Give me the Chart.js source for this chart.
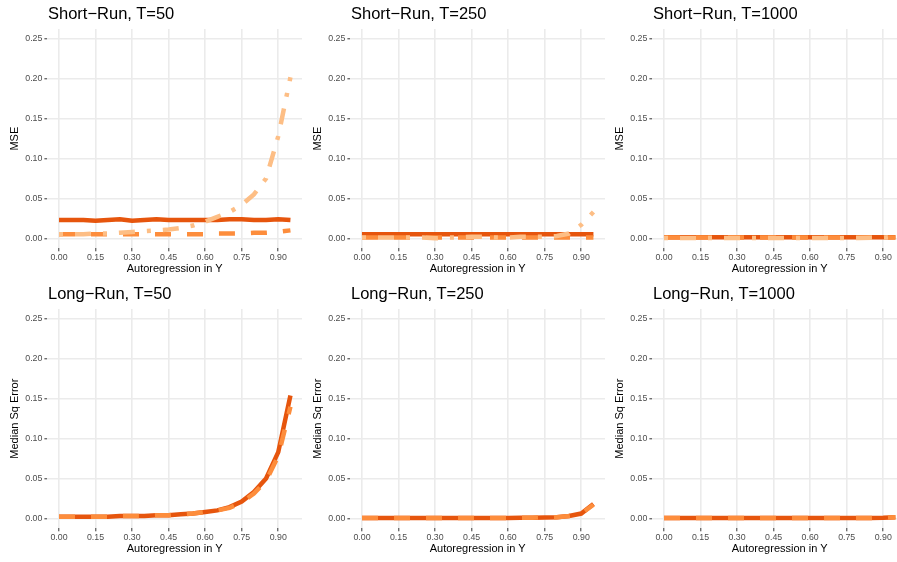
<!DOCTYPE html>
<html>
<head>
<meta charset="utf-8">
<script src="https://cdn.jsdelivr.net/npm/chart.js@4.4.1/dist/chart.umd.min.js"></script>
<style>
body { margin: 0; width: 897px; height: 562px; overflow: hidden; background: #fff; position: relative; font-family: "Liberation Sans", Arial, sans-serif; }
.panel { position: absolute; width: 302px; height: 280px; }
.panel canvas { position: absolute; left: 0; top: 0; }
.ttl { position: absolute; left: 48px; top: 5px; font-size: 16.5px; line-height: 1; white-space: nowrap; color: #000; }
</style>
</head>
<body>
<div id="wrap"></div>
<script>
// x values shared by every panel
const xValues = [0.00, 0.05, 0.10, 0.15, 0.20, 0.25, 0.30, 0.35, 0.40, 0.45, 0.50, 0.55, 0.60, 0.65, 0.70, 0.75, 0.80, 0.85, 0.90, 0.95];
const xTicks = [0.00, 0.15, 0.30, 0.45, 0.60, 0.75, 0.90];
const yTicks = [0.00, 0.05, 0.10, 0.15, 0.20, 0.25];

// Short-run MSE
const sr50Solid   = [0.023, 0.023, 0.023, 0.022, 0.023, 0.024, 0.022, 0.023, 0.024, 0.023, 0.023, 0.023, 0.023, 0.023, 0.024, 0.024, 0.023, 0.023, 0.024, 0.023];
const sr50Dashed  = [0.005, 0.005, 0.005, 0.005, 0.005, 0.005, 0.005, 0.005, 0.005, 0.005, 0.005, 0.005, 0.005, 0.006, 0.006, 0.006, 0.007, 0.007, 0.008, 0.010];
const sr50DotDash = [0.005, 0.005, 0.005, 0.006, 0.006, 0.007, 0.008, 0.009, 0.010, 0.011, 0.013, 0.016, 0.021, 0.027, 0.033, 0.042, 0.055, 0.075, 0.128, 0.202];

const sr250Solid   = [0.005, 0.005, 0.005, 0.005, 0.005, 0.005, 0.005, 0.005, 0.005, 0.005, 0.005, 0.005, 0.005, 0.005, 0.005, 0.005, 0.005, 0.005, 0.005, 0.005];
const sr250Dashed  = [0.001, 0.001, 0.001, 0.001, 0.001, 0.001, 0.001, 0.001, 0.001, 0.001, 0.001, 0.001, 0.001, 0.001, 0.001, 0.001, 0.001, 0.001, 0.001, 0.001];
const sr250DotDash = [0.001, 0.001, 0.001, 0.001, 0.001, 0.001, 0.000, 0.001, 0.001, 0.002, 0.002, 0.001, 0.001, 0.002, 0.002, 0.002, 0.003, 0.006, 0.017, 0.033];

const sr1000Solid   = [0.0015, 0.0015, 0.0015, 0.0015, 0.0015, 0.0015, 0.0015, 0.0015, 0.0015, 0.0015, 0.0015, 0.0015, 0.0015, 0.0015, 0.0015, 0.0015, 0.0015, 0.0015, 0.0015, 0.0015];
const sr1000Dashed  = [0.001, 0.001, 0.001, 0.001, 0.001, 0.001, 0.001, 0.001, 0.001, 0.001, 0.001, 0.001, 0.001, 0.001, 0.001, 0.001, 0.001, 0.001, 0.001, 0.001];
const sr1000DotDash = [0.0005, 0.0005, 0.0005, 0.0005, 0.0005, 0.0005, 0.0005, 0.0005, 0.0005, 0.0005, 0.0005, 0.0005, 0.0005, 0.0005, 0.0005, 0.0005, 0.0005, 0.0008, 0.001, 0.002];

// Long-run median squared error
const lr50Solid  = [0.002, 0.002, 0.002, 0.002, 0.002, 0.003, 0.003, 0.003, 0.004, 0.004, 0.005, 0.006, 0.008, 0.010, 0.014, 0.021, 0.033, 0.050, 0.083, 0.154];
const lr50Dashed = [0.002, 0.002, 0.002, 0.002, 0.002, 0.003, 0.003, 0.003, 0.004, 0.004, 0.005, 0.006, 0.008, 0.010, 0.013, 0.020, 0.031, 0.047, 0.078, 0.140];

const lr250Solid  = [0.0005, 0.0005, 0.0005, 0.0005, 0.0005, 0.0005, 0.0005, 0.0005, 0.0005, 0.0005, 0.0005, 0.0005, 0.0005, 0.0006, 0.0008, 0.001, 0.0015, 0.003, 0.006, 0.018];
const lr250Dashed = [0.0005, 0.0005, 0.0005, 0.0005, 0.0005, 0.0005, 0.0005, 0.0005, 0.0005, 0.0005, 0.0005, 0.0005, 0.0005, 0.0006, 0.0008, 0.001, 0.0015, 0.003, 0.006, 0.017];

const lr1000Solid  = [0.0003, 0.0003, 0.0003, 0.0003, 0.0003, 0.0003, 0.0003, 0.0003, 0.0003, 0.0003, 0.0003, 0.0003, 0.0003, 0.0003, 0.0003, 0.0003, 0.0004, 0.0005, 0.0008, 0.0015];
const lr1000Dashed = [0.0003, 0.0003, 0.0003, 0.0003, 0.0003, 0.0003, 0.0003, 0.0003, 0.0003, 0.0003, 0.0003, 0.0003, 0.0003, 0.0003, 0.0003, 0.0003, 0.0004, 0.0005, 0.0008, 0.0015];

const FONT = '"Liberation Sans", Arial, sans-serif';
const styles = {
    solid:   { color: '#E6550D', dash: [], order: 3 },
    dashed:  { color: '#FD8D3C', dash: [16, 16], order: 2 },
    dotdash: { color: '#FDBE85', dash: [4, 12, 16, 12], order: 1 }
};

const panels = [
    { title: 'Short−Run, T=50',   yTitle: 'MSE', series: [['solid', sr50Solid], ['dashed', sr50Dashed], ['dotdash', sr50DotDash]] },
    { title: 'Short−Run, T=250',  yTitle: 'MSE', series: [['solid', sr250Solid], ['dashed', sr250Dashed], ['dotdash', sr250DotDash]] },
    { title: 'Short−Run, T=1000', yTitle: 'MSE', series: [['solid', sr1000Solid], ['dashed', sr1000Dashed], ['dotdash', sr1000DotDash]] },
    { title: 'Long−Run, T=50',    yTitle: 'Median Sq Error', series: [['solid', lr50Solid], ['dashed', lr50Dashed]] },
    { title: 'Long−Run, T=250',   yTitle: 'Median Sq Error', series: [['solid', lr250Solid], ['dashed', lr250Dashed]] },
    { title: 'Long−Run, T=1000',  yTitle: 'Median Sq Error', series: [['solid', lr1000Solid], ['dashed', lr1000Dashed]] }
];

const colLeft = [0, 303, 605];
const wrap = document.getElementById('wrap');

panels.forEach((p, i) => {
    const div = document.createElement('div');
    div.className = 'panel';
    div.style.left = colLeft[i % 3] + 'px';
    div.style.top = (Math.floor(i / 3) * 280) + 'px';
    const canvas = document.createElement('canvas');
    canvas.width = 302;
    canvas.height = 280;
    div.appendChild(canvas);
    const ttl = document.createElement('div');
    ttl.className = 'ttl';
    ttl.textContent = p.title;
    div.appendChild(ttl);
    wrap.appendChild(div);

    new Chart(canvas.getContext('2d'), {
        type: 'line',
        data: {
            datasets: p.series.map(([kind, vals]) => ({
                data: xValues.map((x, k) => ({ x: x, y: vals[k] })),
                borderColor: styles[kind].color,
                borderDash: styles[kind].dash,
                order: styles[kind].order,
                borderWidth: 4.5,
                pointRadius: 0,
                tension: 0,
                fill: false
            }))
        },
        options: {
            responsive: false,
            animation: false,
            layout: { padding: { top: 29, left: 0, right: 0, bottom: 0 } },
            plugins: { legend: { display: false }, tooltip: { enabled: false }, title: { display: false } },
            scales: {
                x: {
                    type: 'linear', min: -0.0475, max: 0.9975,
                    afterBuildTicks: s => { s.ticks = xTicks.map(v => ({ value: v })); },
                    afterFit: s => { s.height = 31.7; },
                    ticks: { callback: v => v.toFixed(2), color: '#4D4D4D', font: { size: 8.8, family: FONT }, padding: 1, maxRotation: 0, autoSkip: false },
                    grid: { color: '#EBEBEB', lineWidth: 1.6, tickColor: '#333333', tickWidth: 1, tickLength: 3 },
                    border: { display: false },
                    title: { display: true, text: 'Autoregression in Y', color: '#000', font: { size: 11, family: FONT }, padding: { top: 0, bottom: 4 } }
                },
                y: {
                    type: 'linear', min: -0.0125, max: 0.2625,
                    afterBuildTicks: s => { s.ticks = yTicks.map(v => ({ value: v })); },
                    afterFit: s => { s.width = 47.4; },
                    ticks: { callback: v => v.toFixed(2), color: '#4D4D4D', font: { size: 8.8, family: FONT }, padding: 2 },
                    grid: { color: '#EBEBEB', lineWidth: 1.6, tickColor: '#333333', tickWidth: 1, tickLength: 3 },
                    border: { display: false },
                    title: { display: true, text: p.yTitle, color: '#000', font: { size: 11, family: FONT }, padding: { top: 8, bottom: 0 } }
                }
            }
        }
    });
});
</script>
</body>
</html>
